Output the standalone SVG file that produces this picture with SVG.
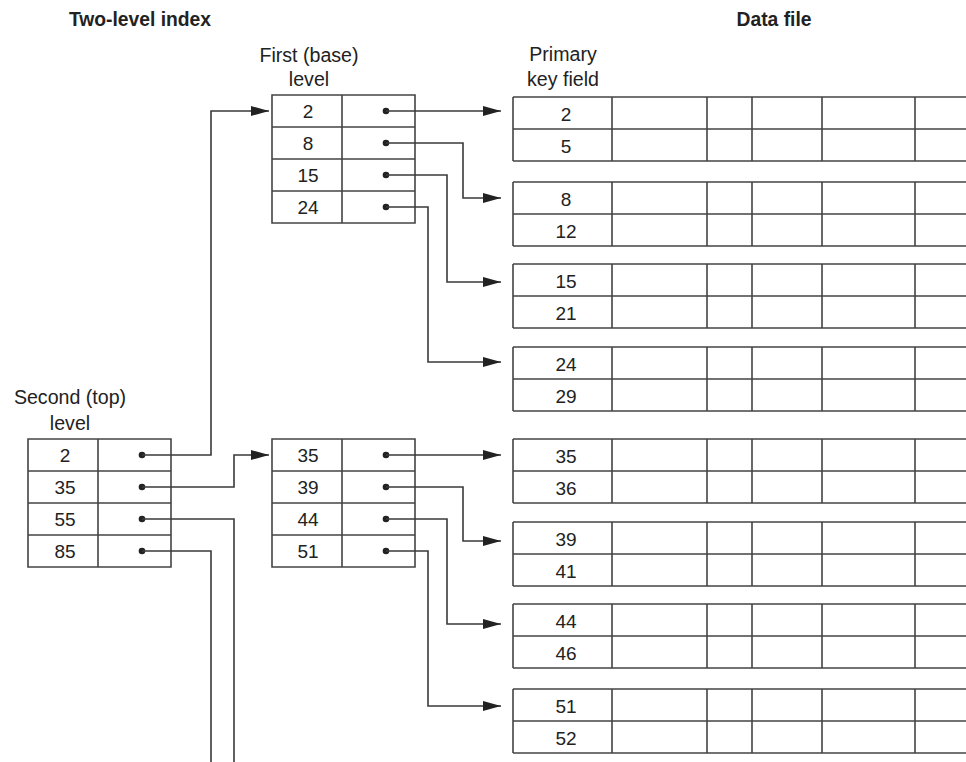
<svg xmlns="http://www.w3.org/2000/svg" xmlns:xlink="http://www.w3.org/1999/xlink" width="966" height="762" viewBox="0 0 966 762">
<style>
  .grid { fill: none; stroke: #444; stroke-width: 1.6; }
  .conn { fill: none; stroke: #3a3a3a; stroke-width: 1.6; }
  .dot { fill: #222; }
  text { font-family: "Liberation Sans", Arial, sans-serif; font-size: 19px; fill: #222; }
  .cell { text-anchor: middle; }
  .title { font-weight: bold; text-anchor: middle; font-size: 19.3px; }
  .lbl { text-anchor: middle; font-size: 19.6px; }
</style>
<defs>
  <marker id="arr" markerUnits="userSpaceOnUse" markerWidth="19" markerHeight="11" refX="18" refY="5" orient="auto">
    <path d="M0,0 L18,5 L0,10 z" fill="#222"/>
  </marker>
  <g id="idx">
    <path class="grid" d="M0,0 H143 V128 H0 Z M0,32 H143 M0,64 H143 M0,96 H143 M70,0 V128"/>
    <circle class="dot" cx="114" cy="16" r="3.3"/>
    <circle class="dot" cx="114" cy="48" r="3.3"/>
    <circle class="dot" cx="114" cy="80" r="3.3"/>
    <circle class="dot" cx="114" cy="112" r="3.3"/>
  </g>
  <path id="rec" class="grid" d="M513,0 H966 M513,32 H966 M513,64 H966 M513,0 V64 M612,0 V64 M707,0 V64 M752,0 V64 M822,0 V64 M915,0 V64"/>
</defs>

<g id="titles">
  <text class="title" x="140" y="26">Two-level index</text>
  <text class="title" x="774" y="26">Data file</text>
  <text class="lbl" x="309" y="62">First (base)</text>
  <text class="lbl" x="309" y="86">level</text>
  <text class="lbl" x="563" y="61">Primary</text>
  <text class="lbl" x="563" y="86">key field</text>
  <text class="lbl" x="70" y="404">Second (top)</text>
  <text class="lbl" x="70" y="430">level</text>
</g>

<g id="second-level">
  <use xlink:href="#idx" href="#idx" transform="translate(28,439)"/>
  <text class="cell" x="65" y="462">2</text>
  <text class="cell" x="65" y="494">35</text>
  <text class="cell" x="65" y="526">55</text>
  <text class="cell" x="65" y="558">85</text>
</g>

<g id="first-level-1">
  <use xlink:href="#idx" href="#idx" transform="translate(272,95)"/>
  <text class="cell" x="308" y="118">2</text>
  <text class="cell" x="308" y="150">8</text>
  <text class="cell" x="308" y="182">15</text>
  <text class="cell" x="308" y="214">24</text>
</g>

<g id="first-level-2">
  <use xlink:href="#idx" href="#idx" transform="translate(272,439)"/>
  <text class="cell" x="308" y="462">35</text>
  <text class="cell" x="308" y="494">39</text>
  <text class="cell" x="308" y="526">44</text>
  <text class="cell" x="308" y="558">51</text>
</g>

<g id="block-2">
  <use xlink:href="#rec" href="#rec" y="97"/>
  <text class="cell" x="566" y="121">2</text>
  <text class="cell" x="566" y="153">5</text>
</g>
<g id="block-8">
  <use xlink:href="#rec" href="#rec" y="182"/>
  <text class="cell" x="566" y="206">8</text>
  <text class="cell" x="566" y="238">12</text>
</g>
<g id="block-15">
  <use xlink:href="#rec" href="#rec" y="264"/>
  <text class="cell" x="566" y="288">15</text>
  <text class="cell" x="566" y="320">21</text>
</g>
<g id="block-24">
  <use xlink:href="#rec" href="#rec" y="347"/>
  <text class="cell" x="566" y="371">24</text>
  <text class="cell" x="566" y="403">29</text>
</g>
<g id="block-35">
  <use xlink:href="#rec" href="#rec" y="439"/>
  <text class="cell" x="566" y="463">35</text>
  <text class="cell" x="566" y="495">36</text>
</g>
<g id="block-39">
  <use xlink:href="#rec" href="#rec" y="522"/>
  <text class="cell" x="566" y="546">39</text>
  <text class="cell" x="566" y="578">41</text>
</g>
<g id="block-44">
  <use xlink:href="#rec" href="#rec" y="604"/>
  <text class="cell" x="566" y="628">44</text>
  <text class="cell" x="566" y="660">46</text>
</g>
<g id="block-51">
  <use xlink:href="#rec" href="#rec" y="689"/>
  <text class="cell" x="566" y="713">51</text>
  <text class="cell" x="566" y="745">52</text>
</g>

<g id="connectors">
  <path class="conn" d="M142,455 H211 V111 H269" marker-end="url(#arr)"/>
  <path class="conn" d="M142,487 H234 V455 H269" marker-end="url(#arr)"/>
  <path class="conn" d="M142,519 H234 V762"/>
  <path class="conn" d="M142,551 H211 V762"/>

  <path class="conn" d="M386,111 H501" marker-end="url(#arr)"/>
  <path class="conn" d="M386,143 H463 V198 H501" marker-end="url(#arr)"/>
  <path class="conn" d="M386,175 H447 V282 H501" marker-end="url(#arr)"/>
  <path class="conn" d="M386,207 H428 V362 H501" marker-end="url(#arr)"/>

  <path class="conn" d="M386,455 H501" marker-end="url(#arr)"/>
  <path class="conn" d="M386,487 H463 V541 H501" marker-end="url(#arr)"/>
  <path class="conn" d="M386,519 H447 V624 H501" marker-end="url(#arr)"/>
  <path class="conn" d="M386,551 H428 V706 H501" marker-end="url(#arr)"/>
</g>
</svg>
